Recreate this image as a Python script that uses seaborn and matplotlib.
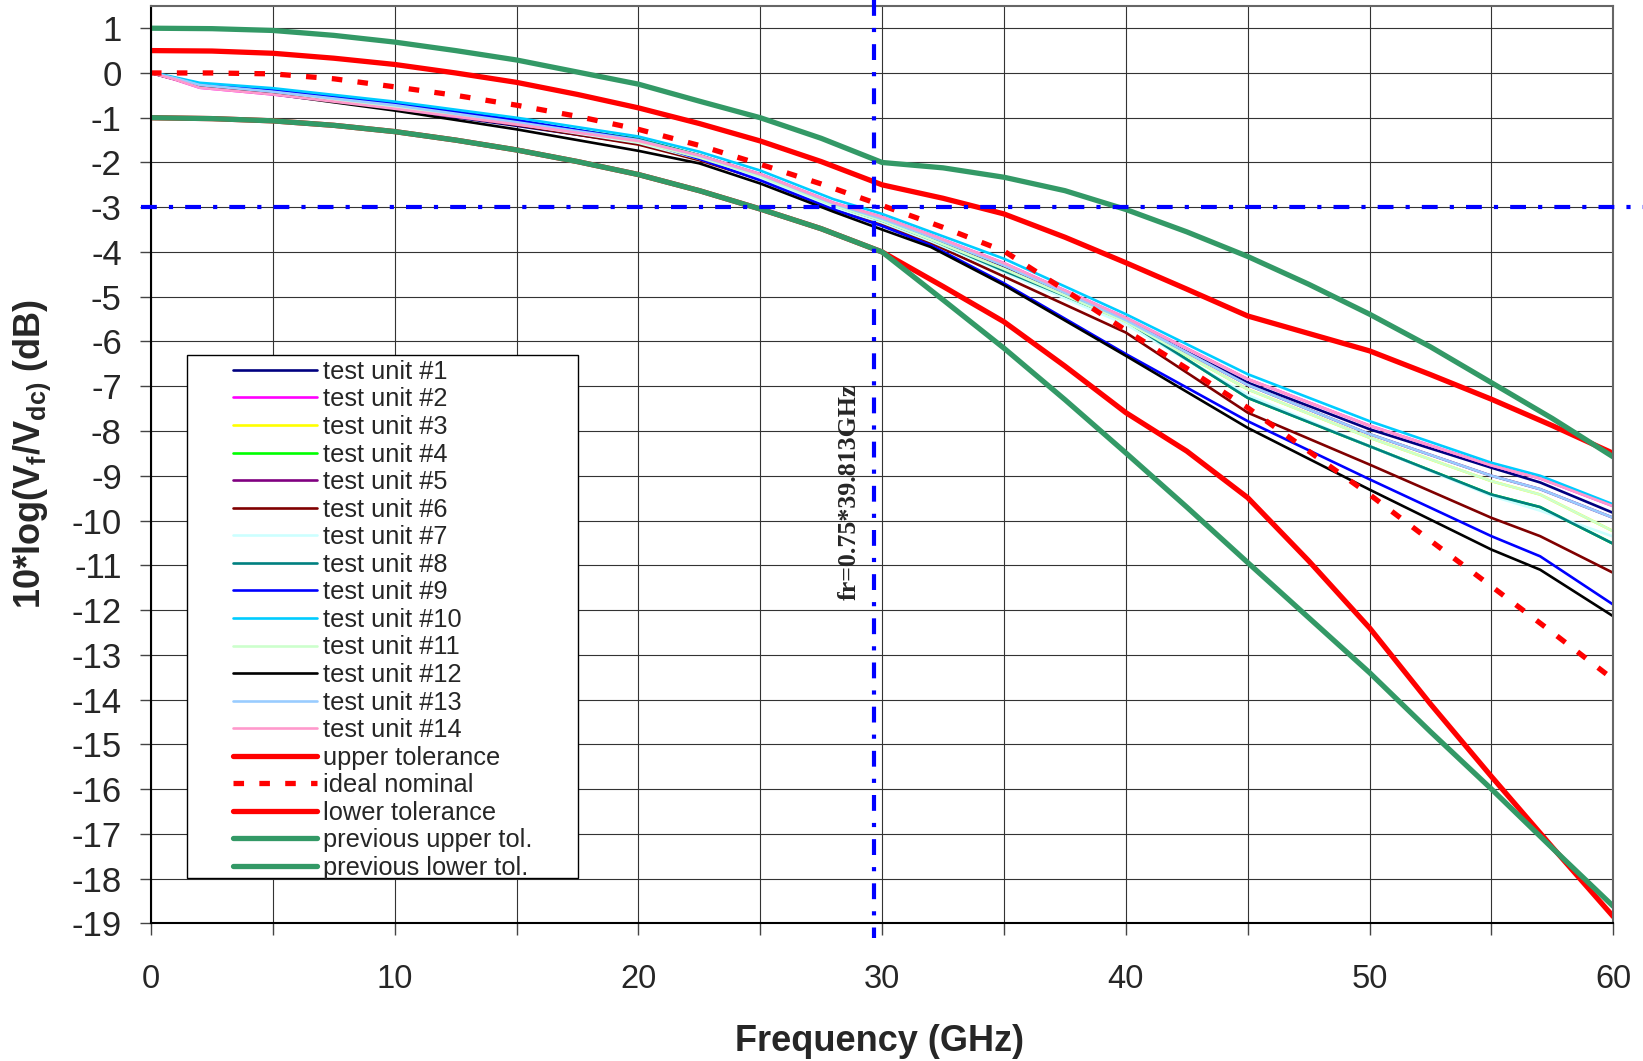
import matplotlib
matplotlib.use('Agg')
import matplotlib.pyplot as plt
import seaborn as sns
from matplotlib.patches import Rectangle

freq = [0, 1, 2, 5, 10, 15, 20, 22.5, 25, 28, 30, 32, 35, 40, 45, 50, 55, 57, 60]

unit1 = [0, -0.14, -0.30, -0.46, -0.80, -1.18, -1.58, -1.90, -2.32, -2.96, -3.30, -3.70, -4.35, -5.55, -6.92, -7.96, -8.82, -9.15, -9.83]
unit2 = [0, -0.15, -0.33, -0.48, -0.80, -1.15, -1.52, -1.84, -2.26, -2.90, -3.22, -3.62, -4.25, -5.47, -6.84, -7.88, -8.77, -9.06, -9.68]
unit3 = [0, -0.13, -0.28, -0.43, -0.74, -1.12, -1.54, -1.89, -2.31, -2.96, -3.30, -3.72, -4.38, -5.56, -7.07, -8.15, -9.12, -9.42, -10.24]
unit4 = [0.01, -0.12, -0.27, -0.40, -0.70, -1.08, -1.48, -1.84, -2.28, -2.95, -3.30, -3.72, -4.42, -5.54, -7.26, -8.34, -9.42, -9.70, -10.52]
unit5 = [0.01, -0.12, -0.27, -0.42, -0.72, -1.10, -1.50, -1.85, -2.27, -2.92, -3.26, -3.66, -4.30, -5.52, -6.97, -8.07, -9.00, -9.30, -9.94]
unit6 = [0, -0.14, -0.30, -0.45, -0.78, -1.16, -1.60, -1.95, -2.38, -3.02, -3.38, -3.80, -4.55, -5.80, -7.59, -8.75, -9.94, -10.35, -11.17]
unit7 = [0, -0.13, -0.29, -0.44, -0.76, -1.14, -1.56, -1.92, -2.35, -3.00, -3.34, -3.76, -4.45, -5.62, -7.20, -8.34, -9.45, -9.78, -10.36]
unit8 = [0.01, -0.12, -0.27, -0.40, -0.70, -1.08, -1.48, -1.84, -2.28, -2.95, -3.30, -3.72, -4.42, -5.54, -7.26, -8.34, -9.42, -9.70, -10.52]
unit9 = [0.02, -0.12, -0.26, -0.38, -0.68, -1.05, -1.50, -1.92, -2.40, -3.05, -3.42, -3.85, -4.70, -6.28, -7.78, -9.08, -10.35, -10.80, -11.88]
unit10 = [0.02, -0.10, -0.22, -0.34, -0.64, -1.00, -1.42, -1.76, -2.18, -2.82, -3.15, -3.55, -4.15, -5.39, -6.73, -7.78, -8.71, -9.00, -9.64]
unit11 = [0, -0.13, -0.28, -0.43, -0.74, -1.12, -1.54, -1.89, -2.31, -2.96, -3.30, -3.72, -4.38, -5.56, -7.07, -8.15, -9.12, -9.42, -10.24]
unit12 = [0, -0.14, -0.31, -0.47, -0.84, -1.26, -1.74, -2.02, -2.47, -3.10, -3.50, -3.89, -4.74, -6.32, -7.93, -9.31, -10.65, -11.10, -12.14]
unit13 = [0.01, -0.12, -0.27, -0.42, -0.72, -1.10, -1.50, -1.85, -2.27, -2.92, -3.26, -3.66, -4.30, -5.52, -6.97, -8.07, -9.00, -9.30, -9.94]
unit14 = [0, -0.15, -0.33, -0.48, -0.80, -1.15, -1.52, -1.84, -2.26, -2.90, -3.22, -3.62, -4.25, -5.47, -6.84, -7.88, -8.77, -9.06, -9.68]

unit_colors = ['#000080', '#FF00FF', '#FFFF00', '#00FF00', '#800080', '#800000', '#CCFFFF',
               '#008080', '#0000FF', '#00CCFF', '#CCFFCC', '#000000', '#99CCFF', '#FF99CC']

# tolerance masks
freq_tol = [0, 2.5, 5, 7.5, 10, 12.5, 15, 17.5, 20, 22.5, 25, 27.5, 30, 32.5, 35, 37.5,
            40, 42.5, 45, 47.5, 50, 52.5, 55, 57.5, 60]
upper_tol = [0.5, 0.49, 0.44, 0.33, 0.19, 0.0, -0.21, -0.48, -0.78, -1.13, -1.52, -1.98, -2.5,
             -2.8, -3.15, -3.67, -4.24, -4.83, -5.43, -5.82, -6.21, -6.74, -7.29, -7.88, -8.5]
ideal_nominal = [0, 0, -0.02, -0.13, -0.31, -0.5, -0.72, -0.97, -1.26, -1.62, -2.04, -2.48, -2.96,
                 -3.45, -3.98, -4.85, -5.75, -6.6, -7.48, -8.45, -9.42, -10.45, -11.47, -12.5, -13.55]
lower_tol = [-1.0, -1.02, -1.07, -1.17, -1.31, -1.5, -1.72, -1.98, -2.27, -2.63, -3.04, -3.48, -4.0,
             -4.77, -5.56, -6.55, -7.59, -8.45, -9.49, -10.9, -12.4, -14.1, -15.72, -17.3, -18.85]
prev_upper = [1.0, 0.99, 0.95, 0.84, 0.69, 0.5, 0.29, 0.02, -0.25, -0.63, -1.0, -1.46, -2.0,
              -2.12, -2.33, -2.63, -3.05, -3.55, -4.1, -4.72, -5.39, -6.12, -6.92, -7.72, -8.58]
prev_lower = [-1.0, -1.02, -1.07, -1.17, -1.31, -1.5, -1.72, -1.98, -2.27, -2.63, -3.04, -3.48, -4.0,
              -5.07, -6.15, -7.3, -8.49, -9.7, -10.94, -12.17, -13.4, -14.72, -16.0, -17.32, -18.62]

fr_ghz = 29.65      # where the fr marker is drawn
level_3db = -3

sns.set_theme(style='white')
plt.rcParams['font.family'] = ['Liberation Sans', 'DejaVu Sans']
plt.rcParams['axes.unicode_minus'] = False
plt.rcParams['mathtext.fontset'] = 'custom'
plt.rcParams['mathtext.rm'] = 'Liberation Sans'
plt.rcParams['mathtext.bf'] = 'Liberation Sans:bold'

fig = plt.figure(figsize=(16.43, 10.61), dpi=100)
ax = fig.add_axes([0.0919, 0.1298, 0.89, 0.8647])

units = [unit1, unit2, unit3, unit4, unit5, unit6, unit7, unit8, unit9, unit10,
         unit11, unit12, unit13, unit14]
for i, vals in enumerate(units):
    sns.lineplot(x=freq, y=vals, color=unit_colors[i], lw=1.9, ax=ax,
                 label='test unit #' + str(i + 1), legend=False)

sns.lineplot(x=freq_tol, y=upper_tol, color='#FF0000', lw=3.8, ax=ax,
             label='upper tolerance', legend=False)
sns.lineplot(x=freq_tol, y=ideal_nominal, color='#FF0000', lw=3.8, ax=ax,
             label='ideal nominal', legend=False)
ax.lines[-1].set_dashes((2.0, 2.9))
sns.lineplot(x=freq_tol, y=lower_tol, color='#FF0000', lw=3.8, ax=ax,
             label='lower tolerance', legend=False)
sns.lineplot(x=freq_tol, y=prev_upper, color='#339966', lw=3.8, ax=ax,
             label='previous upper tol.', legend=False)
sns.lineplot(x=freq_tol, y=prev_lower, color='#339966', lw=3.8, ax=ax,
             label='previous lower tol.', legend=False)

handles, labels = ax.get_legend_handles_labels()

# blue dash-dot markers
vline, = ax.plot([fr_ghz, fr_ghz], [1.63, -19.33], color='#0000FF', lw=3, clip_on=False, zorder=7)
vline.set_dashes((3.8, 2.9, 1, 2.9))
hline, = ax.plot([-0.4, 61.2], [level_3db, level_3db], color='#0000FF', lw=3, clip_on=False, zorder=7)
hline.set_dashes((3.8, 2.9, 1, 2.9))

ax.text(28.64, -9.37, 'fr=0.75*39.813GHz', rotation=90, ha='center', va='center',
        family='Liberation Serif', weight='bold', fontsize=18.6)

ax.set_xlim(0, 60)
ax.set_ylim(-19, 1.5)
ax.set_xticks(range(0, 61, 5))
ax.set_xticklabels([str(v) if v % 10 == 0 else '' for v in range(0, 61, 5)])
ax.set_yticks(range(-19, 2))
ax.set_yticklabels([str(v) for v in range(-19, 2)])
ax.tick_params(axis='x', labelsize=23.5, length=8.5, width=1, color='#444444',
               pad=21, bottom=True, direction='out')
ax.tick_params(axis='y', labelsize=25, length=8, width=1, color='#444444',
               pad=13, left=True, direction='out')

ax.grid(True, color='#333333', lw=0.8)
ax.set_axisbelow(True)
for side in ['left', 'bottom']:
    ax.spines[side].set_color('black')
    ax.spines[side].set_linewidth(1.5)
for side in ['top', 'right']:
    ax.spines[side].set_color('#666666')
    ax.spines[side].set_linewidth(1.5)

ax.set_xlabel('Frequency (GHz)', fontsize=26, fontweight='bold')
ax.xaxis.set_label_coords(0.4985, -0.110)
ax.set_ylabel(r'10*log(V$_{\mathbf{f}}$/V$_{\mathbf{dc)}}$ (dB)', fontsize=26, fontweight='bold')
ax.yaxis.set_label_coords(-0.067, 0.512)

# legend frame drawn separately so the padding matches
ax.add_patch(Rectangle((1.465, -17.99), 16.05, 11.69, facecolor='white', edgecolor='black',
                       lw=1, zorder=4.5))
leg = ax.legend(handles, labels, loc='upper left', bbox_to_anchor=(3.365, -6.41),
                bbox_transform=ax.transData, frameon=False, fontsize=18.3, borderpad=0,
                borderaxespad=0, labelspacing=0.14, handlelength=3.3, handletextpad=0.23)
leg.set_zorder(5)

fig.savefig('out.png', dpi=100)
